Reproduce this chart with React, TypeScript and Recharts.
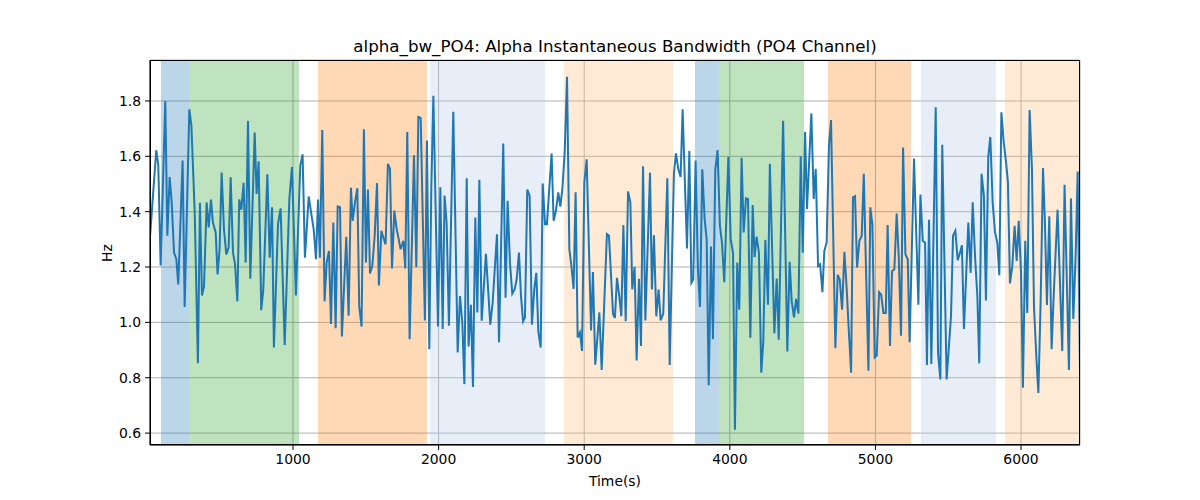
import { LineChart, Line, XAxis, YAxis, CartesianGrid, ReferenceArea } from "recharts";

// time (s) and alpha bandwidth (Hz)
const TIMES = [
  18, 61, 75, 91, 123, 137, 153, 167, 183, 199, 212, 242, 256, 288, 302, 325, 347, 361, 375, 389,
  407, 421, 437, 450, 469, 482, 496, 510, 526, 542, 558, 572, 588, 602, 618, 631, 645, 661, 675, 691,
  707, 737, 750, 764, 782, 796, 824, 840, 856, 869, 897, 915, 943, 975, 993, 1020, 1050, 1066, 1082, 1108,
  1128, 1142, 1158, 1172, 1185, 1201, 1217, 1231, 1247, 1261, 1277, 1293, 1307, 1323, 1336, 1366, 1382, 1398, 1410, 1426,
  1442, 1455, 1471, 1487, 1501, 1515, 1529, 1545, 1561, 1577, 1590, 1607, 1620, 1636, 1652, 1666, 1680, 1696, 1712, 1726,
  1739, 1758, 1771, 1785, 1801, 1831, 1847, 1861, 1877, 1906, 1920, 1936, 1950, 1964, 1996, 2012, 2028, 2041, 2055, 2071,
  2101, 2131, 2147, 2163, 2177, 2193, 2206, 2222, 2236, 2252, 2266, 2280, 2296, 2325, 2355, 2371, 2401, 2415, 2444, 2460,
  2474, 2490, 2506, 2522, 2536, 2552, 2566, 2580, 2593, 2609, 2625, 2641, 2657, 2671, 2685, 2701, 2715, 2731, 2744, 2776,
  2790, 2806, 2822, 2836, 2850, 2866, 2882, 2898, 2911, 2927, 2941, 2955, 2971, 2985, 3001, 3017, 3047, 3060, 3076, 3104,
  3120, 3156, 3170, 3198, 3211, 3225, 3241, 3255, 3269, 3285, 3301, 3317, 3330, 3346, 3360, 3376, 3390, 3404, 3420, 3452,
  3465, 3479, 3495, 3511, 3525, 3543, 3571, 3587, 3616, 3630, 3646, 3662, 3676, 3692, 3706, 3722, 3736, 3749, 3765, 3781,
  3795, 3811, 3827, 3841, 3855, 3871, 3884, 3900, 3916, 3932, 3946, 3962, 3990, 4006, 4022, 4035, 4051, 4065, 4081, 4095,
  4111, 4125, 4141, 4157, 4170, 4184, 4200, 4216, 4230, 4244, 4262, 4275, 4306, 4322, 4336, 4366, 4395, 4411, 4425, 4441,
  4455, 4471, 4487, 4501, 4517, 4530, 4560, 4576, 4590, 4606, 4620, 4636, 4649, 4665, 4681, 4695, 4725, 4741, 4755, 4771,
  4787, 4803, 4817, 4833, 4846, 4860, 4874, 4890, 4906, 4920, 4936, 4952, 4965, 4979, 4995, 5009, 5025, 5039, 5055, 5071,
  5084, 5100, 5114, 5130, 5146, 5160, 5176, 5190, 5206, 5222, 5235, 5265, 5295, 5309, 5325, 5341, 5354, 5368, 5384, 5414,
  5430, 5446, 5459, 5489, 5519, 5533, 5549, 5565, 5581, 5594, 5608, 5638, 5654, 5668, 5684, 5700, 5713, 5729, 5745, 5759,
  5775, 5789, 5805, 5821, 5837, 5851, 5865, 5881, 5897, 5910, 5924, 5940, 5956, 5970, 5984, 6000, 6013, 6029, 6043, 6059,
  6075, 6089, 6105, 6119, 6135, 6151, 6164, 6178, 6194, 6210, 6226, 6251, 6283, 6299, 6329, 6343, 6359, 6375, 6389, 6405,
];

const VALUES = [
  1.31, 1.622, 1.567, 1.206, 1.8, 1.313, 1.525, 1.434, 1.252, 1.228, 1.137, 1.585, 1.056, 1.77, 1.713, 1.4, 0.852, 1.432, 1.097, 1.131,
  1.434, 1.343, 1.444, 1.361, 1.325, 1.173, 1.264, 1.541, 1.337, 1.246, 1.27, 1.524, 1.252, 1.21, 1.076, 1.444, 1.407, 1.504, 1.216, 1.728,
  1.158, 1.686, 1.464, 1.582, 1.044, 1.119, 1.535, 1.234, 1.416, 0.909, 1.355, 1.412, 0.918, 1.446, 1.561, 1.097, 1.567, 1.607, 1.234, 1.455,
  1.385, 1.337, 1.228, 1.444, 1.234, 1.695, 1.076, 1.216, 1.258, 0.994, 1.361, 0.979, 1.419, 1.416, 0.949, 1.309, 1.024, 1.486, 1.367, 1.434,
  1.485, 1.058, 0.985, 1.698, 1.216, 1.48, 1.177, 1.204, 1.313, 1.503, 1.133, 1.331, 1.307, 1.282, 1.573, 1.555, 1.195, 1.404, 1.337, 1.301,
  1.264, 1.295, 1.195, 1.688, 0.939, 1.604, 1.199, 1.742, 1.739, 1.007, 1.657, 0.903, 1.488, 1.819, 0.985, 1.488, 0.976, 1.458, 1.361, 0.988,
  1.761, 0.891, 1.095, 0.998, 0.777, 1.521, 0.913, 1.064, 0.767, 1.379, 1.036, 1.515, 1.006, 1.248, 0.992, 1.07, 1.318, 0.928, 1.646, 1.089,
  1.439, 1.216, 1.104, 1.119, 1.155, 1.252, 1.095, 1.004, 1.018, 1.48, 1.458, 0.992, 1.119, 1.179, 0.967, 0.909, 1.502, 1.355, 1.355, 1.61,
  1.367, 1.404, 1.47, 1.418, 1.482, 1.616, 1.887, 1.264, 1.21, 1.121, 1.47, 0.945, 0.964, 0.897, 1.507, 1.589, 0.971, 1.182, 0.847, 1.036,
  0.828, 1.319, 1.313, 1.03, 1.016, 1.161, 1.095, 1.022, 1.352, 1.004, 1.473, 1.434, 1.119, 1.201, 0.862, 1.158, 0.915, 1.564, 1.007, 1.541,
  1.119, 1.315, 1.022, 1.119, 1.007, 1.032, 1.521, 0.846, 1.537, 1.611, 1.555, 1.525, 1.77, 1.495, 1.267, 1.619, 1.143, 1.155, 1.585, 1.192,
  1.056, 1.553, 1.373, 1.301, 0.773, 1.274, 0.939, 1.549, 1.622, 1.349, 1.288, 1.145, 1.598, 1.301, 1.252, 0.612, 1.216, 1.046, 1.595, 1.325,
  1.448, 1.446, 0.945, 1.424, 1.236, 1.31, 1.252, 0.818, 0.931, 1.298, 1.064, 1.573, 0.961, 1.158, 0.937, 1.728, 0.895, 1.219, 1.076, 1.018,
  1.085, 1.032, 1.6, 1.252, 1.688, 1.41, 1.755, 1.446, 1.555, 1.204, 1.21, 1.109, 1.258, 1.288, 1.64, 1.731, 0.907, 1.172, 1.155, 1.046,
  1.255, 1.119, 0.973, 0.818, 1.452, 1.456, 1.198, 1.295, 1.313, 1.537, 1.179, 0.825, 1.416, 1.355, 0.873, 0.879, 1.109, 1.101, 1.034, 1.034,
  1.352, 0.915, 1.185, 1.192, 1.393, 1.24, 0.952, 1.632, 1.246, 1.228, 0.928, 1.592, 1.064, 1.462, 1.295, 1.288, 0.846, 1.371, 0.85, 1.777,
  0.888, 0.794, 1.642, 0.794, 1.022, 1.313, 1.331, 1.225, 1.252, 1.279, 0.976, 1.361, 1.179, 1.434, 1.24, 1.095, 0.852, 1.537, 1.458, 1.079,
  1.598, 1.67, 1.434, 1.327, 1.288, 1.17, 1.759, 1.652, 1.579, 1.507, 1.141, 1.204, 1.349, 1.222, 1.367, 1.179, 0.764, 1.295, 1.034, 1.767,
  1.555, 1.058, 0.876, 0.745, 1.082, 1.558, 1.361, 1.063, 1.383, 0.903, 1.119, 1.407, 0.897, 1.497, 0.828, 1.448, 1.012, 1.24, 1.545, 0.828,
];

// shaded segments (s)
const SEG_START = [93, 286, 1172, 1941, 2861, 3761, 3926, 4674, 5313, 5890];
const SEG_END = [286, 1041, 1920, 2731, 3610, 3926, 4510, 5244, 5828, 6405];
const SEG_KIND = ["a", "b", "c", "d", "e", "a", "b", "c", "d", "e"];

const KIND_COLORS: Record<string, string> = {
  a: "#1f77b4", b: "#2ca02c", c: "#ff7f0e", d: "#aec7e8", e: "#ffbb78",
};

const X_TICKS = [1000, 2000, 3000, 4000, 5000, 6000];
const Y_TICKS = [0.6, 0.8, 1.0, 1.2, 1.4, 1.6, 1.8];

const data = TIMES.map((t, i) => ({ t, v: VALUES[i] }));

const font = "'DejaVu Sans', sans-serif";
const tickStyle = { fill: "#000", fontSize: 13.9, fontFamily: font };

export default function App() {
  return (
    <div style={{ position: "absolute", left: 0, top: 0, width: 1200, height: 500, background: "#fff", fontFamily: font }}>
      <div style={{ position: "absolute", left: 150, width: 930, top: 35, lineHeight: "22px", textAlign: "center", fontSize: 16.7 }}>
        alpha_bw_PO4: Alpha Instantaneous Bandwidth (PO4 Channel)
      </div>
      <LineChart width={1200} height={500} data={data} margin={{ top: 60, right: 120, bottom: 25, left: 90 }}>
        <CartesianGrid stroke="#b0b0b0" strokeWidth={1} vertical horizontal />
        {SEG_START.map((s, i) => (
          <ReferenceArea key={i} x1={s} x2={SEG_END[i]} fill={KIND_COLORS[SEG_KIND[i]]} fillOpacity={0.3} stroke="none" ifOverflow="hidden" />
        ))}
        <XAxis
          dataKey="t" type="number" domain={[18, 6405]} ticks={X_TICKS} allowDataOverflow
          height={30} tick={tickStyle} tickSize={5} tickMargin={4}
          axisLine={{ stroke: "#000" }} tickLine={{ stroke: "#000" }}
        />
        <YAxis
          type="number" domain={[0.557, 1.948]} ticks={Y_TICKS} allowDataOverflow
          width={60} tick={tickStyle} tickSize={5} tickMargin={4}
          tickFormatter={(v: number) => v.toFixed(1)}
          axisLine={{ stroke: "#000" }} tickLine={{ stroke: "#000" }}
        />
        <Line dataKey="v" type="linear" stroke="#1f77b4" strokeWidth={2} dot={false} isAnimationActive={false} />
      </LineChart>
      <div style={{ position: "absolute", left: 150, top: 60, width: 930, height: 385, border: "1px solid #000", boxSizing: "border-box", pointerEvents: "none" }} />
      <div style={{ position: "absolute", left: 150, width: 930, top: 472, lineHeight: "18px", textAlign: "center", fontSize: 13.9 }}>
        Time(s)
      </div>
      <div style={{ position: "absolute", left: 107, top: 253, fontSize: 13.9, transform: "translate(-50%, -50%) rotate(-90deg)", whiteSpace: "nowrap" }}>
        Hz
      </div>
    </div>
  );
}
